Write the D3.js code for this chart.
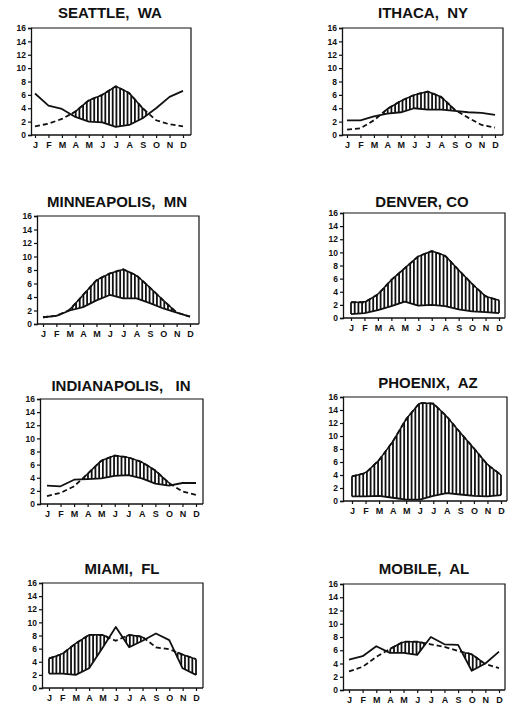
<!DOCTYPE html>
<html><head><meta charset="utf-8">
<script src="https://cdn.jsdelivr.net/npm/d3@7"></script>
<style>
html,body{margin:0;padding:0;background:#fff;}
svg{display:block;font-family:"Liberation Sans",Arial,Helvetica,sans-serif;}
</style></head>
<body><svg id="c" width="512" height="706"></svg>
<script>
const months = ["J","F","M","A","M","J","J","A","S","O","N","D"];
const yTicks = [0,2,4,6,8,10,12,14,16];
const cityNames = ["SEATTLE,  WA","ITHACA,  NY","MINNEAPOLIS,  MN","DENVER, CO","INDIANAPOLIS,   IN","PHOENIX,  AZ","MIAMI,  FL","MOBILE,  AL"];

// precipitation (solid) and potential evapotranspiration (dashed)
const seattlePrecip = [6.2,4.4,3.9,2.7,2.0,1.9,1.2,1.5,2.5,4.0,5.7,6.6];
const seattlePET    = [1.3,1.7,2.4,3.5,5.2,6.0,7.3,6.3,4.0,2.2,1.6,1.3];
const ithacaPrecip  = [2.2,2.2,2.8,3.2,3.4,4.0,3.8,3.8,3.6,3.4,3.3,3.0];
const ithacaPET     = [0.8,1.0,2.2,3.9,5.1,6.0,6.5,5.7,3.8,2.6,1.5,1.1];
const minneapolisPrecip = [1.0,1.2,2.0,2.5,3.5,4.3,3.8,3.8,3.1,2.3,1.7,1.1];
const minneapolisPET    = [1.0,1.2,2.1,4.3,6.5,7.5,8.1,7.2,5.4,3.5,1.7,1.1];
const denverPrecip = [0.6,0.75,1.2,1.8,2.5,1.9,2.0,1.8,1.3,1.0,0.9,0.75];
const denverPET    = [2.4,2.4,3.6,5.8,7.6,9.4,10.2,9.5,7.3,5.2,3.3,2.7];
const indianapolisPrecip = [2.8,2.7,3.7,3.8,3.9,4.3,4.4,3.9,3.1,2.8,3.2,3.2];
const indianapolisPET    = [1.2,1.7,2.7,4.6,6.6,7.4,7.1,6.4,5.1,3.2,1.9,1.4];
const phoenixPrecip = [0.7,0.7,0.8,0.5,0.2,0.2,0.8,1.2,1.0,0.8,0.7,0.9];
const phoenixPET    = [3.8,4.3,6.3,9.1,12.6,15.1,15.0,13.0,10.5,8.1,5.6,4.0];
const miamiPrecip = [2.2,2.2,2.0,3.0,6.1,9.3,6.2,7.2,8.3,7.3,3.0,2.0];
const miamiPET    = [4.5,5.2,6.8,8.1,8.1,7.2,8.1,7.8,6.2,5.9,5.1,4.4];
const mobilePrecip = [4.6,5.1,6.6,5.6,5.6,5.3,8.0,6.9,6.8,2.9,4.0,5.8];
const mobilePET    = [2.8,3.5,5.0,6.2,7.3,7.3,6.9,6.5,5.9,5.4,3.9,3.3];

const precipSets = [seattlePrecip,ithacaPrecip,minneapolisPrecip,denverPrecip,indianapolisPrecip,phoenixPrecip,miamiPrecip,mobilePrecip];
const petSets = [seattlePET,ithacaPET,minneapolisPET,denverPET,indianapolisPET,phoenixPET,miamiPET,mobilePET];

// panel layout: frame left/right, y16/y0 pixel, first/last month pixel, title centre/baseline
const layout = [
  {L:31,   R:191, T:28,  B:135, xJ:35,  xD:183, tx:110, ty:18},
  {L:342,  R:503, T:28,  B:135, xJ:347, xD:495, tx:423, ty:18},
  {L:37,   R:199, T:216, B:324, xJ:43,  xD:190, tx:117, ty:207},
  {L:343,  R:505, T:213, B:318, xJ:351, xD:499, tx:422, ty:207},
  {L:40,   R:203, T:399, B:504, xJ:47,  xD:196, tx:121, ty:391},
  {L:343,  R:507, T:397, B:501, xJ:352, xD:501, tx:428, ty:388},
  {L:42,   R:203, T:583, B:688, xJ:49,  xD:196, tx:122, ty:574},
  {L:343,  R:505, T:584, B:690, xJ:349, xD:499, tx:424, ty:574}
];

const svg = d3.select("#c");
const ink = "#111";

layout.forEach((lo, k) => {
  const precip = precipSets[k], pet = petSets[k];
  const x = d3.scaleLinear().domain([0, 11]).range([lo.xJ, lo.xD]);
  const y = d3.scaleLinear().domain([0, 16]).range([lo.B, lo.T]);
  const g = svg.append("g");

  // title
  g.append("text").attr("x", lo.tx).attr("y", lo.ty)
    .attr("text-anchor", "middle").attr("font-size", 15).attr("font-weight", "bold")
    .attr("fill", ink).style("white-space", "pre").text(cityNames[k]);

  // frame top & right
  g.append("path")
    .attr("d", `M${lo.L},${y(16)}H${lo.R}V${y(0)}`)
    .attr("fill", "none").attr("stroke", ink).attr("stroke-width", 1.2);

  // y axis
  const ya = d3.axisLeft(y).tickValues(yTicks).tickSize(3).tickPadding(2).tickFormat(d3.format("d"));
  const yg = g.append("g").attr("transform", `translate(${lo.L},0)`).call(ya);
  yg.select(".domain").attr("stroke", ink).attr("stroke-width", 1.3);
  yg.selectAll(".tick line").attr("stroke", ink).attr("stroke-width", 1.2);
  yg.selectAll(".tick text").attr("font-size", 8.5).attr("font-weight", "bold")
    .attr("fill", ink).attr("font-family", "Liberation Sans, Arial, sans-serif");

  // x axis
  const xa = d3.axisBottom(x).tickValues(d3.range(12)).tickSize(3).tickPadding(4)
    .tickFormat(i => months[i]);
  const xg = g.append("g").attr("transform", `translate(0,${lo.B})`).call(xa);
  xg.select(".domain").attr("d", `M${lo.L},0H${lo.R}`).attr("stroke", ink).attr("stroke-width", 1.3);
  xg.selectAll(".tick line").attr("stroke", ink).attr("stroke-width", 1.2);
  xg.selectAll(".tick text").attr("font-size", 9).attr("font-weight", "bold")
    .attr("fill", ink).attr("font-family", "Liberation Sans, Arial, sans-serif");

  // hatching where PET exceeds precipitation
  const interp = (arr, t) => {
    const i = Math.min(Math.floor(t), 10), f = t - i;
    return arr[i] + (arr[i + 1] - arr[i]) * f;
  };
  const steps = d3.range(0, 11 + 1e-6, 11 / 40);
  const all = steps.map((t, j) => ({t, j, p: interp(precip, t), e: interp(pet, t)}));
  const hatch = all.filter(d => d.e - d.p > 0.08);
  g.append("g").selectAll("line").data(hatch).join("line")
    .attr("x1", d => x(d.t)).attr("x2", d => x(d.t))
    .attr("y1", d => y(d.p)).attr("y2", d => y(d.e))
    .attr("stroke", ink).attr("stroke-width", 1.8);

  const line = d3.line().x((d, i) => x(i)).y(d => y(d));
  // PET dashed
  g.append("path").datum(pet).attr("d", line)
    .attr("fill", "none").attr("stroke", ink).attr("stroke-width", 1.8)
    .attr("stroke-dasharray", "5,3");

  // solid cap along the top of each hatched run
  const runs = [];
  hatch.forEach(d => {
    const last = runs[runs.length - 1];
    if (last && last[last.length - 1].j === d.j - 1) last.push(d); else runs.push([d]);
  });
  const topLine = d3.line().x(d => x(d.t)).y(d => y(d.e));
  g.append("g").selectAll("path").data(runs.filter(r => r.length > 1)).join("path")
    .attr("d", topLine).attr("fill", "none").attr("stroke", ink).attr("stroke-width", 1.5);

  // precipitation solid
  g.append("path").datum(precip).attr("d", line)
    .attr("fill", "none").attr("stroke", ink).attr("stroke-width", 1.8)
    .attr("stroke-linejoin", "round");
});
</script></body></html>
